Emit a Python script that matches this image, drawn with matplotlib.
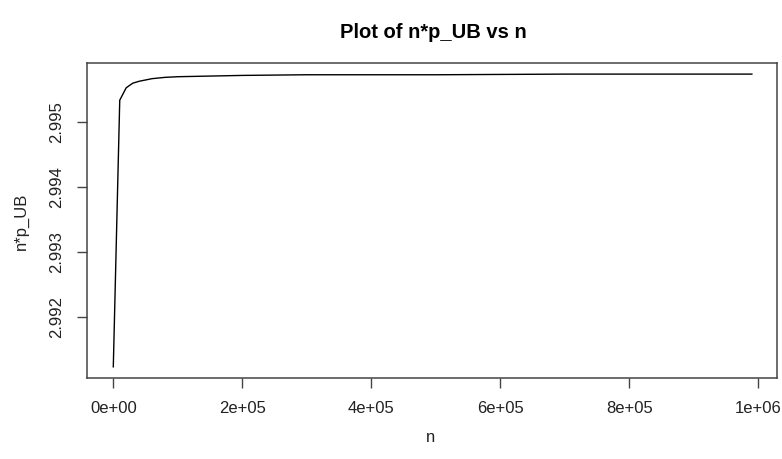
import matplotlib.pyplot as plt
from matplotlib.ticker import FuncFormatter

# values
n_vals = [1, 10001, 20001, 30001, 40001, 50001, 60001, 80001, 100001,
          150001, 200001, 300001, 400001, 500001, 700001, 990001]
np_ub = [2.99124, 2.99533, 2.99552, 2.99559, 2.99562, 2.99564, 2.99566,
         2.99568, 2.99569, 2.99570, 2.99571, 2.99572, 2.99572, 2.99572,
         2.99573, 2.99573]

x_ticks = [0, 2e5, 4e5, 6e5, 8e5, 1e6]
y_ticks = [2.992, 2.993, 2.994, 2.995]

plt.rcParams['font.family'] = ['Liberation Sans', 'DejaVu Sans']

fig = plt.figure(figsize=(7.82, 4.59), dpi=100)
W, H = 782, 459
ax = fig.add_axes([87.3 / W, 1 - 378.3 / H, (776.7 - 87.3) / W, (378.3 - 62.7) / H])

ax.plot(n_vals, np_ub, color='black', linewidth=1.0)

ax.set_xlim(-40300, 1028500)
ax.set_ylim(2.991064, 2.995905)
ax.set_xticks(x_ticks)
ax.set_yticks(y_ticks)
ax.xaxis.set_major_formatter(FuncFormatter(lambda v, p: f'{v:.0e}'))
ax.yaxis.set_major_formatter(FuncFormatter(lambda v, p: f'{v:.3f}'))

for s in ax.spines.values():
    s.set_color('#444444')
    s.set_linewidth(1.1)
ax.tick_params(axis='both', length=7, width=1.0, color='#444444', labelsize=12, labelcolor='#222222')
ax.tick_params(axis='x', pad=9)
ax.tick_params(axis='y', pad=10)
for lab in ax.get_yticklabels():
    lab.set_rotation(90)
    lab.set_va('center')

fig.text(433 / W, 1 - 33 / H, 'Plot of n*p_UB vs n', ha='center', va='center',
         fontsize=14.5, fontweight='bold')
fig.text(431 / W, 1 - 437 / H, 'n', ha='center', va='center', fontsize=12, color='#222222')
fig.text(21 / W, 1 - 221 / H, 'n*p_UB', ha='center', va='center', rotation=90,
         fontsize=12, color='#222222')

fig.savefig('out.png', dpi=100)
